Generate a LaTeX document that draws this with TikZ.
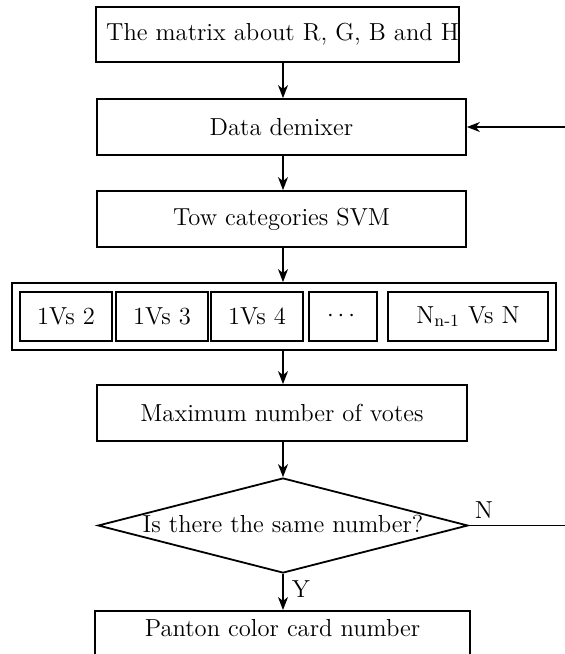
\documentclass[tikz,border=0pt]{standalone}
\usepackage{amsmath}
\usetikzlibrary{shapes.geometric,arrows.meta}
\begin{document}
\begin{tikzpicture}[x=0.5pt,y=-0.5pt,
  every node/.style={font=\fontsize{12.3}{14.5}\selectfont},
  box/.style={draw, line width=0.9pt, inner sep=0pt},
  sbox/.style={draw, line width=0.9pt, inner sep=0pt, minimum height=24.5pt},
  conn/.style={line width=0.6pt, -{Stealth[length=6.5pt,width=5pt,inset=2pt]}},
  plain/.style={line width=0.6pt}
]
\useasboundingbox (0,0) rectangle (565,654);
\clip (0,0) rectangle (565,654);
\coordinate (ax) at (283,0);
\node[box, minimum width=180.5pt, minimum height=27.5pt] (m) at (277.5,34.5) {\hspace*{5pt}The matrix about R, G, B and H};
\node[box, minimum width=184.5pt, minimum height=28pt] (dd) at (281.5,127) {Data demixer};
\node[box, minimum width=184.5pt, minimum height=28pt] (svm) at (281.5,219) {Tow categories SVM};
\node[box, minimum width=272pt, minimum height=33.5pt] (outer) at (284,316.5) {};
\node[sbox, minimum width=46pt] (b1) at (66,316.5) {1Vs 2};
\node[sbox, minimum width=46pt] (b2) at (162,316.5) {1Vs 3};
\node[sbox, minimum width=46pt] (b3) at (257,316.5) {1Vs 4};
\node[sbox, minimum width=34pt] (b4) at (343,316.5) {$\cdots$};
\node[sbox, minimum width=80pt] (b5) at (468,316.5) {N$_{\text{n-1}}$ Vs N};
\node[box, minimum width=185pt, minimum height=28pt] (mv) at (282,413) {Maximum number of votes};
\node[diamond, draw, line width=0.9pt, inner sep=0pt, minimum width=185pt, minimum height=47.5pt] (d) at (283,525.5) {};
\node (dt) at (283,524) {Is there the same number?};
\node (nl) at (484,510) {N};
\node (yl) at (301,589) {Y};
\node[box, anchor=north, minimum width=187.5pt, inner ysep=4.5pt, text height=8.2pt, text depth=20pt] (p) at (282.5,610) {Panton color card number};
\coordinate (fb) at (580,525.5);
\draw[conn] (m.south -| ax) -- (dd.north -| ax);
\draw[conn] (dd.south -| ax) -- (svm.north -| ax);
\draw[conn] (svm.south -| ax) -- (outer.north -| ax);
\draw[conn] (outer.south -| ax) -- (mv.north -| ax);
\draw[conn] (mv.south -| ax) -- (d.north);
\draw[conn] (d.south) -- (p.north -| d.south);
\draw[plain] (d.east) -- (fb);
\draw[conn] (fb) |- (dd.east);
\end{tikzpicture}
\end{document}
